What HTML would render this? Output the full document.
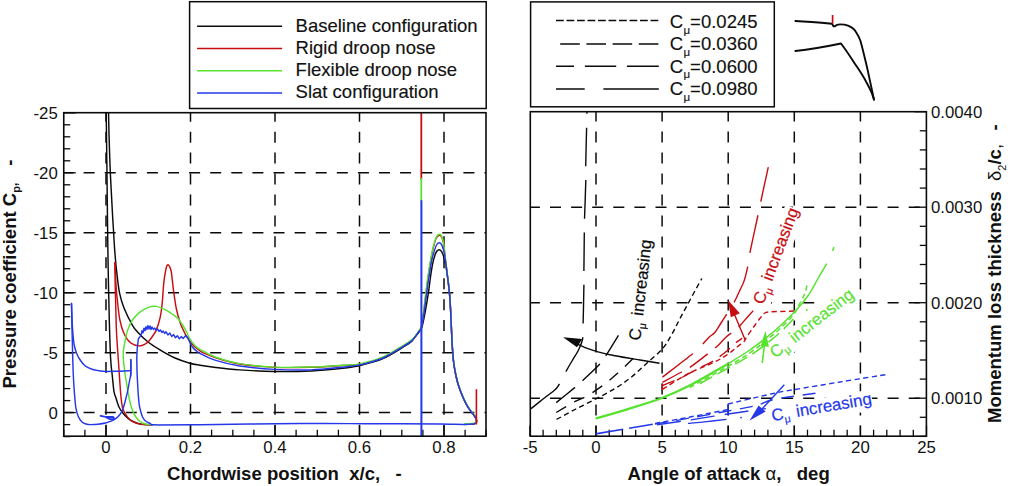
<!DOCTYPE html>
<html><head><meta charset="utf-8"><title>chart</title>
<style>
html,body{margin:0;padding:0;background:#fff;}
svg{display:block;}
text{font-family:"Liberation Sans",sans-serif;fill:#111;}
.tk{font-size:16.8px;}
.lg{font-size:18.5px;stroke:#111;stroke-width:0.15px;}
.tt{font-size:18.55px;font-weight:700;}
.an{font-size:16.8px;}
</style></head><body>
<svg width="1011" height="486" viewBox="0 0 1011 486">
<rect width="1011" height="486" fill="#fff"/>

<clipPath id="cl"><rect x="63.75" y="112.7" width="422.25" height="323.5"/></clipPath>
<g clip-path="url(#cl)" stroke="#0a0a0a" stroke-width="1.5" fill="none" stroke-dasharray="11 10.1">
<path stroke-dasharray="11 9.94" d="M106.0,110.7 V436.2"/>
<path stroke-dasharray="11 9.94" d="M190.5,110.7 V436.2"/>
<path stroke-dasharray="11 9.94" d="M275.0,110.7 V436.2"/>
<path stroke-dasharray="11 9.94" d="M359.5,110.7 V436.2"/>
<path stroke-dasharray="11 9.94" d="M444.0,110.7 V436.2"/>
<path d="M62.5,172.8 H486.0"/>
<path d="M62.5,232.8 H486.0"/>
<path d="M62.5,292.7 H486.0"/>
<path d="M62.5,352.7 H486.0"/>
<path d="M62.5,412.6 H486.0"/>
</g>
<g stroke="#0a0a0a" stroke-width="1.3" fill="none">
<path d="M63.75,112.9 h12"/>
<path d="M63.75,124.8 h6.5"/>
<path d="M63.75,136.8 h6.5"/>
<path d="M63.75,148.8 h6.5"/>
<path d="M63.75,160.8 h6.5"/>
<path d="M63.75,172.8 h12"/>
<path d="M63.75,184.8 h6.5"/>
<path d="M63.75,196.8 h6.5"/>
<path d="M63.75,208.8 h6.5"/>
<path d="M63.75,220.8 h6.5"/>
<path d="M63.75,232.8 h12"/>
<path d="M63.75,244.7 h6.5"/>
<path d="M63.75,256.7 h6.5"/>
<path d="M63.75,268.7 h6.5"/>
<path d="M63.75,280.7 h6.5"/>
<path d="M63.75,292.7 h12"/>
<path d="M63.75,304.7 h6.5"/>
<path d="M63.75,316.7 h6.5"/>
<path d="M63.75,328.7 h6.5"/>
<path d="M63.75,340.7 h6.5"/>
<path d="M63.75,352.7 h12"/>
<path d="M63.75,364.6 h6.5"/>
<path d="M63.75,376.6 h6.5"/>
<path d="M63.75,388.6 h6.5"/>
<path d="M63.75,400.6 h6.5"/>
<path d="M63.75,412.6 h12"/>
<path d="M63.75,424.6 h6.5"/>
<path d="M63.75,436.6 h6.5"/>
<path d="M63.8,436.2 v-6.5"/>
<path d="M84.9,436.2 v-6.5"/>
<path d="M106.0,436.2 v-11"/>
<path d="M127.1,436.2 v-6.5"/>
<path d="M148.2,436.2 v-6.5"/>
<path d="M169.4,436.2 v-6.5"/>
<path d="M190.5,436.2 v-11"/>
<path d="M211.6,436.2 v-6.5"/>
<path d="M232.8,436.2 v-6.5"/>
<path d="M253.9,436.2 v-6.5"/>
<path d="M275.0,436.2 v-11"/>
<path d="M296.1,436.2 v-6.5"/>
<path d="M317.3,436.2 v-6.5"/>
<path d="M338.4,436.2 v-6.5"/>
<path d="M359.5,436.2 v-11"/>
<path d="M380.6,436.2 v-6.5"/>
<path d="M401.8,436.2 v-6.5"/>
<path d="M422.9,436.2 v-6.5"/>
<path d="M444.0,436.2 v-11"/>
<path d="M465.1,436.2 v-6.5"/>
<path d="M486.2,436.2 v-6.5"/>
</g>
<g clip-path="url(#cl)" fill="none" stroke-width="1.45" stroke-linejoin="round" stroke-linecap="round">
<path stroke="#0a0a0a" d="M108.5,112.0 C108.6,116.2 108.8,127.0 109.1,137.0 C109.4,147.0 109.8,160.7 110.3,172.0 C110.8,183.3 111.5,195.0 112.0,205.0 C112.5,215.0 113.1,224.5 113.6,232.0 C114.0,239.5 114.2,243.7 114.7,250.0 C115.2,256.3 115.7,262.9 116.5,270.0 C117.3,277.1 118.2,286.1 119.4,292.4 C120.7,298.7 121.8,302.5 124.0,308.0 C126.2,313.5 130.2,321.3 132.5,325.3 C134.8,329.3 134.9,329.2 137.5,332.0 C140.1,334.8 144.1,338.9 148.0,342.0 C151.9,345.1 156.7,347.9 161.2,350.6 C165.7,353.3 170.2,355.9 175.0,358.0 C179.8,360.1 185.6,362.0 189.8,363.2 C194.0,364.4 195.7,364.5 200.0,365.2 C204.3,365.9 209.2,366.7 215.8,367.5 C222.4,368.3 229.8,369.2 239.6,369.9 C249.4,370.6 262.6,371.3 274.5,371.5 C286.4,371.7 299.6,371.5 311.0,371.0 C322.4,370.5 334.4,369.2 342.6,368.3 C350.8,367.4 353.3,367.1 360.0,365.5 C366.7,363.9 375.8,361.7 383.0,358.6 C390.2,355.5 398.7,349.8 403.4,347.0 C408.1,344.2 409.1,343.7 411.0,342.0 C412.9,340.3 413.7,338.7 415.0,337.0 C416.3,335.3 417.8,333.7 419.0,332.0 C420.2,330.3 421.0,330.2 422.0,327.0 C423.0,323.8 423.9,318.8 425.0,313.0 C426.1,307.2 427.6,298.2 428.5,292.2 C429.4,286.2 429.8,281.8 430.5,277.0 C431.2,272.2 431.9,267.2 432.7,263.5 C433.4,259.8 434.3,257.1 435.0,255.0 C435.7,252.9 436.3,251.9 437.0,251.0 C437.7,250.1 438.4,249.7 439.1,249.7 C439.8,249.7 440.6,250.1 441.3,251.2 C442.0,252.2 442.8,253.7 443.5,256.0 C444.2,258.3 445.0,261.6 445.7,265.0 C446.4,268.4 446.9,271.9 447.5,276.5 C448.1,281.1 448.9,286.7 449.4,292.3 C449.9,297.9 450.3,304.1 450.6,310.0 C450.9,315.9 451.1,322.2 451.4,328.0 C451.7,333.8 451.8,339.3 452.2,345.0 C452.6,350.7 453.0,357.2 453.6,362.0 C454.2,366.8 454.8,370.2 455.6,374.0 C456.4,377.8 457.1,381.0 458.2,384.5 C459.3,388.0 460.6,391.6 462.0,395.0 C463.4,398.4 465.3,402.4 466.8,405.2 C468.3,407.9 469.8,409.8 471.0,411.5 C472.2,413.2 473.2,414.1 474.0,415.3 C474.8,416.5 475.6,417.6 476.0,418.5 C476.4,419.4 476.6,420.2 476.6,421.0 C476.6,421.8 476.6,422.5 476.0,423.0 C475.4,423.5 474.8,423.8 473.0,424.0 C471.2,424.2 466.3,424.3 465.0,424.4"/>
<path stroke="#0a0a0a" d="M152.0,424.8 C150.2,424.7 144.2,424.7 141.0,424.1 C137.8,423.6 135.2,422.5 133.0,421.5 C130.8,420.5 129.2,419.4 127.5,417.9 C125.8,416.4 123.9,414.3 122.5,412.5 C121.1,410.7 120.1,409.4 119.0,407.0 C117.9,404.6 116.8,400.6 116.0,398.0 C115.2,395.4 114.6,395.5 114.0,391.7 C113.4,387.9 112.8,380.6 112.2,375.0 C111.6,369.4 111.1,367.2 110.6,358.0 C110.1,348.8 109.7,334.7 109.3,320.0 C108.9,305.3 108.5,286.7 108.2,270.0 C107.9,253.3 107.7,238.3 107.5,220.0 C107.3,201.7 107.0,178.0 106.8,160.0 C106.6,142.0 106.3,120.0 106.2,112.0"/>
<path stroke="#c80d12" d="M114.8,262.6 C114.9,264.2 115.2,268.3 115.4,272.0 C115.6,275.7 115.7,280.3 116.0,285.0 C116.3,289.7 116.6,294.1 117.3,300.0 C118.0,305.9 118.8,314.6 119.9,320.2 C121.0,325.8 122.3,329.9 124.1,333.7 C125.9,337.5 128.3,341.0 130.8,343.0 C133.3,345.0 136.9,345.7 139.3,345.9 C141.7,346.1 143.3,345.1 145.0,344.2 C146.7,343.3 147.6,342.8 149.4,340.5 C151.2,338.2 154.3,334.3 156.1,330.4 C157.9,326.5 159.3,321.5 160.3,316.9 C161.3,312.3 161.6,308.5 162.2,303.0 C162.8,297.5 163.2,288.9 163.7,283.7 C164.2,278.5 164.9,274.8 165.4,271.9 C165.9,269.0 166.3,267.4 166.7,266.2 C167.1,265.0 167.5,264.8 168.0,264.8 C168.5,264.9 168.9,265.3 169.5,266.5 C170.1,267.7 170.7,268.2 171.3,271.9 C171.9,275.6 172.5,282.6 173.3,288.8 C174.2,295.0 175.1,302.8 176.4,309.0 C177.8,315.2 179.2,320.5 181.4,325.9 C183.6,331.3 186.7,337.1 189.8,341.3 C192.9,345.5 195.7,348.2 200.0,351.0 C204.3,353.8 209.2,355.6 215.8,357.8 C222.4,360.0 229.8,362.4 239.6,364.0 C249.4,365.6 262.6,366.8 274.5,367.4 C286.4,367.9 299.6,367.6 311.0,367.3 C322.4,367.0 334.4,366.0 342.6,365.5 C350.8,365.0 353.3,365.8 360.0,364.5 C366.7,363.2 375.8,360.7 383.0,357.6 C390.2,354.5 398.7,348.8 403.4,346.0 C408.1,343.2 409.1,342.5 411.0,341.0 C412.9,339.5 413.7,338.6 415.0,337.0 C416.3,335.4 417.9,332.9 419.0,331.3 C420.1,329.7 420.5,330.4 421.3,327.3 C422.1,324.2 422.8,318.9 423.6,313.0 C424.4,307.1 425.4,298.2 426.1,292.2 C426.9,286.2 427.4,282.0 428.1,277.0 C428.8,272.0 429.7,266.7 430.5,262.0 C431.3,257.3 432.2,252.6 433.1,248.7 C434.0,244.8 435.0,241.0 436.0,238.8 C437.0,236.6 438.2,235.6 439.1,235.3 C440.0,235.0 440.8,235.5 441.5,236.8 C442.2,238.1 442.8,239.0 443.5,243.2 C444.2,247.4 445.0,256.4 445.7,262.0 C446.4,267.6 446.9,271.4 447.5,276.5 C448.1,281.6 448.9,286.7 449.4,292.3 C449.9,297.9 450.3,304.1 450.6,310.0 C450.9,315.9 451.1,322.2 451.4,328.0 C451.7,333.8 451.8,339.3 452.2,345.0 C452.6,350.7 453.0,357.2 453.6,362.0 C454.2,366.8 454.8,370.2 455.6,374.0 C456.4,377.8 457.1,381.0 458.2,384.5 C459.3,388.0 460.6,391.6 462.0,395.0 C463.4,398.4 465.3,402.4 466.8,405.2 C468.3,407.9 469.8,409.8 471.0,411.5 C472.2,413.2 473.2,414.1 474.0,415.3 C474.8,416.5 475.6,417.6 476.0,418.5 C476.4,419.4 476.6,420.2 476.6,421.0 C476.6,421.8 476.6,422.5 476.0,423.0 C475.4,423.5 474.8,423.8 473.0,424.0 C471.2,424.2 466.3,424.3 465.0,424.4"/>
<path stroke="#c80d12" d="M152.0,424.8 C150.2,424.7 143.7,424.5 141.0,424.2 C138.3,423.9 137.6,423.6 135.9,423.0 C134.2,422.4 132.4,421.5 131.0,420.5 C129.6,419.5 128.6,418.3 127.5,417.0 C126.4,415.7 125.3,414.2 124.5,412.5 C123.7,410.8 123.0,409.8 122.4,407.0 C121.8,404.2 121.3,399.9 120.9,396.0 C120.5,392.1 120.4,389.6 119.9,383.3 C119.5,377.0 118.8,366.9 118.2,358.0 C117.6,349.1 116.8,339.7 116.4,330.0 C116.0,320.3 115.8,307.5 115.6,300.0 C115.4,292.5 115.3,291.2 115.2,285.0 C115.1,278.8 114.9,266.3 114.8,262.6"/>
<path stroke="#58e230" d="M152.0,424.7 C150.7,424.6 146.4,424.4 144.3,423.8 C142.2,423.2 140.9,422.1 139.5,421.0 C138.1,419.9 137.0,418.6 135.9,417.0 C134.8,415.4 133.8,413.5 133.0,411.5 C132.2,409.5 131.6,407.9 130.8,405.2 C130.1,402.4 129.2,398.6 128.5,395.0 C127.8,391.4 127.3,387.5 126.6,383.3 C125.9,379.1 125.0,374.2 124.5,370.0 C124.0,365.8 123.5,361.3 123.3,358.0 C123.1,354.7 123.2,352.6 123.5,350.0 C123.8,347.4 124.2,345.5 124.9,342.2 C125.6,338.9 126.2,334.1 127.5,330.4 C128.8,326.7 130.5,323.0 132.5,320.0 C134.5,317.0 136.8,314.7 139.3,312.6 C141.8,310.5 144.9,308.6 147.7,307.6 C150.5,306.6 153.3,306.1 156.1,306.4 C158.9,306.7 162.1,308.1 164.6,309.3 C167.1,310.5 169.1,312.0 171.3,313.5 C173.5,315.0 175.8,316.0 178.0,318.5 C180.2,321.0 182.8,325.3 184.8,328.7 C186.8,332.1 188.1,336.0 189.8,338.8 C191.5,341.6 193.2,343.8 194.9,345.5 C196.6,347.2 196.5,347.4 200.0,349.3 C203.5,351.2 209.2,354.8 215.8,357.2 C222.4,359.6 229.8,362.0 239.6,363.6 C249.4,365.2 262.6,366.5 274.5,367.1 C286.4,367.7 299.6,367.3 311.0,367.0 C322.4,366.7 334.4,365.7 342.6,365.2 C350.8,364.7 353.3,365.3 360.0,363.9 C366.7,362.5 375.8,360.1 383.0,357.0 C390.2,353.9 398.7,348.2 403.4,345.4 C408.1,342.6 409.1,341.9 411.0,340.4 C412.9,338.9 413.7,338.1 415.0,336.4 C416.3,334.7 417.9,332.1 419.0,330.4 C420.1,328.7 420.6,329.4 421.3,326.4 C422.1,323.4 422.7,318.2 423.5,312.4 C424.3,306.6 425.2,297.6 426.0,291.6 C426.8,285.6 427.3,281.4 428.0,276.4 C428.7,271.4 429.6,266.1 430.4,261.4 C431.2,256.6 432.1,251.8 433.0,247.9 C433.9,244.0 435.0,240.2 436.0,237.9 C437.0,235.6 438.2,234.6 439.1,234.3 C440.0,234.0 440.8,234.6 441.5,235.9 C442.2,237.2 442.8,238.2 443.5,242.4 C444.2,246.7 445.0,255.8 445.7,261.4 C446.4,267.0 446.9,270.8 447.5,275.9 C448.1,280.9 448.9,286.1 449.4,291.7 C449.9,297.3 450.3,303.4 450.6,309.4 C450.9,315.3 451.1,321.6 451.4,327.4 C451.7,333.2 451.8,338.7 452.2,344.4 C452.6,350.1 453.0,356.6 453.6,361.4 C454.2,366.2 454.8,369.6 455.6,373.4 C456.4,377.1 457.1,380.4 458.2,383.9 C459.3,387.4 460.6,390.9 462.0,394.4 C463.4,397.8 465.3,401.8 466.8,404.6 C468.3,407.3 469.8,409.2 471.0,410.9 C472.2,412.6 473.2,413.5 474.0,414.7 C474.8,415.9 475.6,416.9 476.0,417.9 C476.4,418.8 476.6,419.6 476.6,420.4 C476.6,421.1 476.6,421.9 476.0,422.4 C475.4,422.9 474.8,423.2 473.0,423.4 C471.2,423.6 466.3,423.7 465.0,423.8"/>
<path stroke="#2438e8" d="M149.4,423.2 C148.8,422.8 146.6,422.0 145.5,421.0 C144.4,420.0 143.4,418.7 142.6,417.0 C141.8,415.3 141.1,413.0 140.6,411.0 C140.1,409.0 139.7,407.9 139.3,405.2 C138.9,402.5 138.6,398.6 138.3,395.0 C138.0,391.4 137.8,387.5 137.6,383.3 C137.4,379.1 137.1,374.2 137.0,370.0 C136.9,365.8 136.8,361.7 136.8,358.0 C136.9,354.3 137.0,351.2 137.3,348.0 C137.6,344.8 138.2,340.3 138.4,338.8 L141.0,335.4 L142.0,330.7 L143.0,332.9 L144.0,328.2 L145.0,330.7 L146.0,326.7 L147.0,329.4 L148.0,325.6 L149.0,329.1 L150.0,325.9 L151.0,329.5 L152.0,327.0 L153.4,329.5 L154.8,328.0 L156.2,330.5 L157.6,328.9 L159.0,331.4 L160.4,329.9 L161.8,332.4 L163.2,331.0 L164.6,333.5 L166.0,331.7 L167.9,335.0 L169.8,333.1 L171.7,336.5 L173.6,334.6 L175.5,337.8 L177.4,335.7 L179.3,338.8 L181.2,336.6 L183.1,338.4 L185.6,335.8"/>
<path stroke="#2438e8" d="M185.6,335.8 C185.9,336.1 186.9,336.7 187.5,337.5 C188.1,338.3 188.4,339.3 189.0,340.5 C189.6,341.7 190.3,343.2 191.0,344.5 C191.7,345.8 192.3,346.9 193.2,348.0 C194.1,349.1 195.4,350.1 196.5,351.0 C197.6,351.9 196.8,351.7 200.0,353.3 C203.2,354.9 209.2,358.3 215.8,360.4 C222.4,362.5 229.8,364.5 239.6,366.0 C249.4,367.5 262.6,368.8 274.5,369.4 C286.4,370.0 299.6,370.3 311.0,369.9 C322.4,369.5 334.4,368.0 342.6,367.2 C350.8,366.4 353.3,366.4 360.0,364.9 C366.7,363.4 375.8,361.1 383.0,358.0 C390.2,354.9 398.7,349.2 403.4,346.4 C408.1,343.6 409.1,343.0 411.0,341.4 C412.9,339.8 413.7,338.6 415.0,337.0 C416.3,335.4 417.9,333.1 419.0,331.5 C420.1,329.9 420.7,330.6 421.5,327.5 C422.3,324.4 423.1,318.9 424.0,313.0 C424.9,307.1 426.0,298.2 426.8,292.2 C427.6,286.2 428.2,282.0 429.0,277.0 C429.8,272.0 430.6,266.2 431.4,262.0 C432.2,257.8 433.1,254.8 434.0,252.0 C434.9,249.2 435.6,246.5 436.5,245.0 C437.4,243.5 438.3,242.9 439.1,242.8 C439.9,242.7 440.7,243.2 441.5,244.5 C442.3,245.8 443.0,247.5 443.7,250.5 C444.4,253.5 445.1,258.2 445.7,262.5 C446.3,266.8 446.9,271.5 447.5,276.5 C448.1,281.5 448.9,286.7 449.4,292.3 C449.9,297.9 450.3,304.1 450.6,310.0 C450.9,315.9 451.1,322.2 451.4,328.0 C451.7,333.8 451.8,339.3 452.2,345.0 C452.6,350.7 453.0,357.2 453.6,362.0 C454.2,366.8 454.8,370.2 455.6,374.0 C456.4,377.8 457.1,381.0 458.2,384.5 C459.3,388.0 460.6,391.6 462.0,395.0 C463.4,398.4 465.3,402.4 466.8,405.2 C468.3,407.9 469.8,409.8 471.0,411.5 C472.2,413.2 473.2,414.1 474.0,415.3 C474.8,416.5 475.6,417.6 476.0,418.5 C476.4,419.4 476.6,420.2 476.6,421.0 C476.6,421.8 476.6,422.5 476.0,423.0 C475.4,423.5 474.8,423.8 473.0,424.0 C471.2,424.2 470.5,424.4 465.0,424.4 C459.5,424.4 450.8,424.1 440.0,424.0 C429.2,423.9 415.0,423.9 400.0,423.8 C385.0,423.7 366.7,423.7 350.0,423.6 C333.3,423.6 316.7,423.4 300.0,423.5 C283.3,423.6 266.7,423.8 250.0,424.0 C233.3,424.2 215.0,424.7 200.0,424.8 C185.0,424.9 168.0,424.9 160.0,424.9 C152.0,424.9 153.3,424.8 152.0,424.8"/>
<path stroke="#2438e8" d="M152,424.8 L149.4,423.2"/>
<path stroke="#2438e8" d="M71.5,303.5 C71.6,305.9 71.8,313.2 72.0,318.0 C72.2,322.8 72.4,327.5 72.8,332.0 C73.2,336.5 73.5,341.3 74.2,345.0 C74.9,348.7 75.9,351.4 76.9,354.0 C78.0,356.6 79.1,358.5 80.5,360.5 C81.9,362.5 83.4,364.5 85.3,366.0 C87.2,367.5 89.7,368.5 92.0,369.3 C94.3,370.1 96.8,370.4 99.0,370.7 C101.2,371.0 102.3,371.3 105.5,371.4 C108.7,371.5 113.8,371.3 118.0,371.2 C122.2,371.1 128.7,370.7 130.8,370.6"/>
<path stroke="#2438e8" d="M71.5,303.5 C71.6,307.1 71.8,318.1 71.9,325.0 C72.1,331.9 72.2,336.7 72.4,345.0 C72.6,353.3 72.9,366.6 73.3,374.9 C73.7,383.2 74.1,389.4 74.6,395.0 C75.0,400.6 75.3,404.9 76.0,408.6 C76.7,412.3 77.5,414.8 78.5,417.0 C79.5,419.2 80.8,420.8 82.0,422.0 C83.2,423.2 84.6,423.6 86.0,424.0 C87.4,424.4 88.4,424.6 90.4,424.6 C92.4,424.6 95.5,424.5 98.0,424.2 C100.5,423.9 103.3,423.5 105.5,423.0 C107.7,422.5 109.3,421.9 111.0,421.2 C112.7,420.5 114.2,419.7 115.6,418.7 C117.0,417.7 118.4,416.4 119.5,415.0 C120.6,413.6 121.5,412.5 122.4,410.3 C123.3,408.1 124.2,405.1 125.0,402.0 C125.8,398.9 126.8,395.0 127.5,391.7 C128.2,388.4 128.8,385.1 129.3,382.0 C129.9,378.9 130.6,376.9 130.8,373.2 C131.1,369.5 130.8,361.9 130.8,359.7"/>
<path stroke="#2438e8" d="M130.8,359.5 V376"/>
<path stroke="#2438e8" stroke-width="1.8" d="M100.5,415.8 L104.5,416.6 L108.9,417 L113.1,417 Q114.6,418 113.4,419.2 L110,419.2 L105.8,417.2"/>
<path stroke="#c80d12" stroke-width="1.8" d="M421.3,112 V179"/>
<path stroke="#58e230" stroke-width="1.8" d="M421.3,178.7 V200.5"/>
<path stroke="#2438e8" stroke-width="2" stroke-linecap="butt" d="M421.4,200.3 V436"/>
<path stroke="#c80d12" stroke-width="1.6" stroke-linecap="butt" d="M476.4,389.3 V424.6"/>
</g>
<rect x="63.75" y="112.7" width="422.25" height="323.5" fill="none" stroke="#0a0a0a" stroke-width="1.6"/>
<text class="tk" x="57.8" y="118.8" text-anchor="end">-25</text>
<text class="tk" x="57.8" y="178.7" text-anchor="end">-20</text>
<text class="tk" x="57.8" y="238.7" text-anchor="end">-15</text>
<text class="tk" x="57.8" y="298.6" text-anchor="end">-10</text>
<text class="tk" x="57.8" y="358.6" text-anchor="end">-5</text>
<text class="tk" x="57.8" y="418.5" text-anchor="end">0</text>
<text class="tk" x="106.0" y="453.2" text-anchor="middle">0</text>
<text class="tk" x="190.5" y="453.2" text-anchor="middle">0.2</text>
<text class="tk" x="275.0" y="453.2" text-anchor="middle">0.4</text>
<text class="tk" x="359.5" y="453.2" text-anchor="middle">0.6</text>
<text class="tk" x="444.0" y="453.2" text-anchor="middle">0.8</text>
<text class="tt" x="167" y="479.6" xml:space="preserve">Chordwise position  x/c,   -</text>
<text class="tt" transform="translate(16,388.5) rotate(-90)" xml:space="preserve">Pressure coefficient C<tspan font-size="11px" dy="4.3">p</tspan><tspan font-size="12px" dy="-3.3">,</tspan><tspan dy="-1" dx="1.5">   -</tspan></text>
<rect x="189.6" y="1.7" width="296.6" height="106.8" fill="#fff" stroke="#0a0a0a" stroke-width="1.5"/>
<path d="M197.1,26.2 H282.1" stroke="#0a0a0a" stroke-width="1.4" fill="none"/>
<text class="lg" x="295.6" y="31.5">Baseline configuration</text>
<path d="M197.1,48.5 H282.1" stroke="#c80d12" stroke-width="1.4" fill="none"/>
<text class="lg" x="295.6" y="53.6">Rigid droop nose</text>
<path d="M197.1,70.7 H282.1" stroke="#58e230" stroke-width="1.4" fill="none"/>
<text class="lg" x="295.6" y="75.7">Flexible droop nose</text>
<path d="M197.1,93.0 H282.1" stroke="#2438e8" stroke-width="1.4" fill="none"/>
<text class="lg" x="295.6" y="97.9">Slat configuration</text>
<clipPath id="cr"><rect x="530.3" y="111.7" width="396.1" height="324.5"/></clipPath>
<g clip-path="url(#cr)" stroke="#0a0a0a" stroke-width="1.5" fill="none" stroke-dasharray="11 10.1">
<path stroke-dasharray="11 10" d="M596.0,110.6 V436.2"/>
<path stroke-dasharray="11 10" d="M662.1,110.6 V436.2"/>
<path stroke-dasharray="11 10" d="M728.2,110.6 V436.2"/>
<path stroke-dasharray="11 10" d="M794.3,110.6 V436.2"/>
<path stroke-dasharray="11 10" d="M860.4,110.6 V436.2"/>
<path d="M528.9,398.2 H926.4"/>
<path d="M528.9,302.7 H926.4"/>
<path d="M528.9,207.2 H926.4"/>
</g>
<g clip-path="url(#cr)">
<rect transform="translate(640.2,341) rotate(-83.5)" x="-3.5" y="-14.5" width="105.4" height="21" fill="#fff"/>
<rect transform="translate(763.3,305.2) rotate(-69.5)" x="-3.5" y="-14.5" width="105.4" height="21" fill="#fff"/>
<rect transform="translate(775.2,358.8) rotate(-38)" x="-3.5" y="-14.5" width="105.4" height="21" fill="#fff"/>
<rect transform="translate(772.5,421.2) rotate(-9.8)" x="-3.5" y="-14.5" width="105.4" height="21" fill="#fff"/>
</g>
<g stroke="#0a0a0a" stroke-width="1.3" fill="none">
<path d="M529.9,436.2 v-10.5"/>
<path d="M543.1,436.2 v-6.5"/>
<path d="M556.3,436.2 v-6.5"/>
<path d="M569.6,436.2 v-6.5"/>
<path d="M582.8,436.2 v-6.5"/>
<path d="M596.0,436.2 v-10.5"/>
<path d="M609.2,436.2 v-6.5"/>
<path d="M622.4,436.2 v-6.5"/>
<path d="M635.7,436.2 v-6.5"/>
<path d="M648.9,436.2 v-6.5"/>
<path d="M662.1,436.2 v-10.5"/>
<path d="M675.3,436.2 v-6.5"/>
<path d="M688.5,436.2 v-6.5"/>
<path d="M701.8,436.2 v-6.5"/>
<path d="M715.0,436.2 v-6.5"/>
<path d="M728.2,436.2 v-10.5"/>
<path d="M741.4,436.2 v-6.5"/>
<path d="M754.6,436.2 v-6.5"/>
<path d="M767.9,436.2 v-6.5"/>
<path d="M781.1,436.2 v-6.5"/>
<path d="M794.3,436.2 v-10.5"/>
<path d="M807.5,436.2 v-6.5"/>
<path d="M820.7,436.2 v-6.5"/>
<path d="M834.0,436.2 v-6.5"/>
<path d="M847.2,436.2 v-6.5"/>
<path d="M860.4,436.2 v-10.5"/>
<path d="M873.6,436.2 v-6.5"/>
<path d="M886.8,436.2 v-6.5"/>
<path d="M900.1,436.2 v-6.5"/>
<path d="M913.3,436.2 v-6.5"/>
<path d="M926.5,436.2 v-10.5"/>
<path d="M926.4,436.4 h-6.6"/>
<path d="M926.4,417.3 h-6.6"/>
<path d="M926.4,398.2 h-12"/>
<path d="M926.4,379.1 h-6.6"/>
<path d="M926.4,360.0 h-6.6"/>
<path d="M926.4,340.9 h-6.6"/>
<path d="M926.4,321.8 h-6.6"/>
<path d="M926.4,302.7 h-12"/>
<path d="M926.4,283.6 h-6.6"/>
<path d="M926.4,264.5 h-6.6"/>
<path d="M926.4,245.4 h-6.6"/>
<path d="M926.4,226.3 h-6.6"/>
<path d="M926.4,207.2 h-12"/>
<path d="M926.4,188.1 h-6.6"/>
<path d="M926.4,169.0 h-6.6"/>
<path d="M926.4,149.9 h-6.6"/>
<path d="M926.4,130.8 h-6.6"/>
<path d="M926.4,111.7 h-12"/>
</g>
<g clip-path="url(#cr)" fill="none" stroke-width="1.4" stroke-linecap="butt" stroke-linejoin="round">
<path stroke="#0a0a0a" stroke-dasharray="5.2 3.4" d="M556.5,419.4 C559.6,417.8 568.4,412.9 575.0,409.5 C581.6,406.1 589.3,402.3 596.0,398.8 C602.7,395.3 609.2,392.1 615.0,388.5 C620.8,384.9 625.7,381.6 631.0,377.4 C636.3,373.2 641.5,368.0 646.8,363.2 C652.1,358.4 658.4,353.5 662.6,348.6 C666.8,343.7 669.1,339.0 672.0,334.0 C674.9,329.0 677.0,324.2 680.0,318.5 C683.0,312.8 686.4,306.7 690.0,300.0 C693.6,293.3 699.8,282.1 701.8,278.5"/>
<path stroke="#0a0a0a" stroke-dasharray="11.5 9.3" d="M556.2,412.5 C559.3,410.7 569.4,404.5 574.7,401.7 C580.0,398.9 582.8,398.4 587.8,395.5 C592.8,392.6 599.5,388.0 604.8,384.0 C610.1,380.0 614.2,376.3 619.4,371.6 C624.6,366.9 633.1,358.6 635.8,356.0"/>
<path stroke="#0a0a0a" stroke-dasharray="24 10.2" d="M556.2,402.6 C559.4,400.0 571.1,390.6 575.5,387.0 C579.9,383.4 578.4,384.6 582.4,380.9 C586.4,377.1 595.5,368.6 599.4,364.5 C603.3,360.4 602.4,361.1 605.6,356.2 C608.8,351.2 616.6,338.4 618.8,334.8"/>
<path stroke="#0a0a0a" stroke-dasharray="38.4 14" stroke-dashoffset="35.6" d="M586.9,111.0 C586.9,113.8 586.8,118.7 586.6,128.0 C586.4,137.3 585.8,158.2 585.7,167.0 C585.6,175.8 586.0,172.1 585.8,180.8 C585.6,189.5 584.8,210.7 584.5,219.4 C584.2,228.1 584.4,224.5 584.3,233.2 C584.2,241.9 584.0,262.7 583.9,271.5 C583.8,280.3 584.0,277.0 583.9,285.8 C583.8,294.6 583.3,315.2 583.1,324.1 C582.9,333.0 583.4,334.7 582.6,339.0 C581.8,343.3 580.2,346.4 578.5,350.0 C576.8,353.6 574.5,356.8 572.3,360.5 C570.1,364.2 567.4,368.9 565.4,372.4 C563.4,375.9 561.6,379.3 560.5,381.5 C559.4,383.7 559.4,384.1 558.5,385.5 C557.6,386.9 557.2,387.8 555.0,389.8 C552.8,391.8 549.1,394.3 545.0,397.5 C540.9,400.7 534.5,405.9 530.3,409.1 C526.1,412.4 521.7,415.7 520.0,417.0"/>
<path stroke="#0a0a0a" d="M659.5,363.2 C656.2,362.7 647.4,361.2 640.0,360.0 C632.6,358.8 622.0,357.2 615.0,355.8 C608.0,354.4 602.7,353.1 598.0,351.8 C593.3,350.5 590.3,349.6 586.6,348.2 C582.9,346.8 577.8,344.3 576.0,343.5"/>
<path fill="#0a0a0a" stroke="none" d="M563.1,337.2 L582.2,339 L577,347.3 Z"/>
<path stroke="#c80d12" stroke-dasharray="5.2 3.4" d="M662.4,389.4 C666.1,387.1 679.3,378.6 684.7,375.5 C690.1,372.4 689.7,372.8 694.6,370.6 C699.5,368.4 708.9,364.9 714.3,362.2 C719.7,359.5 723.4,357.2 727.2,354.7 C731.0,352.2 734.2,349.2 737.0,347.0 C739.8,344.8 742.4,343.2 744.0,341.5 C745.6,339.8 744.9,339.5 746.6,337.0 C748.3,334.5 751.6,329.8 754.0,326.5 C756.4,323.2 759.2,319.2 761.0,317.0 C762.8,314.8 763.3,313.9 764.8,313.0 C766.3,312.1 767.5,312.1 770.0,311.8 C772.5,311.6 776.0,311.6 780.0,311.5 C784.0,311.4 791.8,311.1 794.1,311.0"/>
<path stroke="#c80d12" stroke-dasharray="13 8.5" d="M662.4,385.5 C664.5,384.7 671.2,382.0 674.8,380.5 C678.3,379.0 679.8,378.5 683.7,376.5 C687.7,374.5 694.0,370.9 698.5,368.6 C703.0,366.3 707.4,364.2 710.4,362.6 C713.4,361.0 713.5,361.0 716.3,359.0 C719.1,357.0 724.4,353.2 727.2,350.8 C730.0,348.4 730.6,346.9 733.1,344.8 C735.6,342.7 740.5,339.5 742.0,338.4"/>
<path stroke="#c80d12" stroke-dasharray="22 9.5" d="M662.4,382.3 C665.6,380.6 676.8,374.7 681.7,372.0 C686.6,369.3 686.7,369.6 691.6,366.1 C696.5,362.7 706.5,354.8 710.9,351.3 C715.3,347.8 715.8,347.7 718.3,345.3 C720.8,342.9 723.2,339.7 726.2,337.0 C729.2,334.3 733.8,331.6 736.6,329.1 C739.4,326.6 740.0,325.5 743.0,322.1 C746.0,318.7 752.9,311.0 754.9,308.8"/>
<path stroke="#c80d12" stroke-dasharray="38.4 14" d="M662.4,377.2 C667.4,373.3 685.9,359.2 692.6,353.7 C699.3,348.2 699.8,347.0 702.5,344.3 C705.2,341.6 707.0,339.3 709.0,337.3 C711.0,335.3 712.8,334.9 714.8,332.5 C716.8,330.1 719.0,326.1 721.0,323.0 C723.0,319.9 724.5,317.6 726.7,314.2 C728.9,310.8 731.9,306.4 734.1,302.4 C736.3,298.4 738.3,293.6 740.0,290.0 C741.7,286.4 742.9,284.6 744.2,280.6 C745.5,276.7 746.8,271.0 747.8,266.3 C748.8,261.6 748.3,260.9 750.0,252.3 C751.7,243.8 756.2,223.5 758.0,215.0 C759.8,206.5 759.1,209.5 760.8,201.5 C762.5,193.5 767.0,172.8 768.3,167.1"/>
<path stroke="#c80d12" d="M662.4,383.8 V390"/>
<path stroke="#c80d12" d="M745.2,340 L734.5,314.5"/>
<path fill="#c80d12" stroke="none" d="M728.1,300.2 L739.8,313.3 L730.8,317.2 Z"/>
<path stroke="#58e230" stroke-width="2.3" d="M595.6,418.5 C600.9,417.0 616.2,412.7 627.1,409.3 C638.0,405.9 650.8,402.2 661.2,398.2 C671.6,394.2 678.5,391.2 689.6,385.5 C700.7,379.8 721.4,367.6 727.7,364.0"/>
<path stroke="#58e230" stroke-width="1.5" d="M727.7,364.0 C731.0,361.9 741.4,355.7 747.6,351.5 C753.8,347.3 759.6,342.9 764.9,338.8 C770.2,334.7 774.5,331.1 779.3,326.8 C784.1,322.5 790.2,316.4 793.7,312.8 C797.2,309.2 798.2,308.1 800.5,305.3 C802.8,302.6 805.7,298.9 807.6,296.3 C809.5,293.8 810.0,293.0 811.7,290.0 C813.4,287.0 815.5,282.9 818.0,278.5 C820.5,274.1 825.3,266.1 826.8,263.6"/>
<path stroke="#58e230" stroke-width="1.5" d="M832.6,251 L833.9,247"/>
<path stroke="#58e230" stroke-width="1.5" stroke-dasharray="5.2 3.4" d="M689.6,387.5 C696.0,384.0 717.6,372.3 727.7,366.5 C737.8,360.7 743.6,357.1 750.0,352.8 C756.4,348.5 760.8,344.8 766.0,340.6 C771.2,336.4 776.4,332.2 781.0,327.8 C785.6,323.4 790.7,318.4 793.7,314.5 C796.7,310.6 797.4,308.0 799.2,304.5 C801.1,301.0 803.4,297.2 804.8,293.5 C806.2,289.8 807.1,284.1 807.6,282.2"/>
<path stroke="#58e230" stroke-width="1.5" stroke-dasharray="14 6" d="M700.0,383.5 C704.6,381.0 719.0,373.2 727.7,368.3 C736.4,363.4 744.8,358.9 752.0,354.2 C759.2,349.5 765.2,344.9 771.0,340.2 C776.8,335.5 782.8,329.8 787.0,325.8 C791.2,321.8 794.5,317.6 796.0,316.0"/>
<circle cx="806.8" cy="310" r="0.9" fill="#58e230"/>
<path stroke="#58e230" stroke-width="1.6" d="M762.3,363 L764.4,345"/>
<path fill="#58e230" stroke="none" d="M765.4,331 L769,346.8 L760.6,346 Z"/>
<path stroke="#2438e8" stroke-width="1.7" stroke-dasharray="28 6 24 300" d="M595.6,433.9 L655,423.9"/>
<path stroke="#2438e8" stroke-dasharray="5.2 3.4" d="M655.0,423.4 C660.8,422.3 677.8,419.3 690.0,417.0 C702.2,414.7 721.7,410.8 728.0,409.5"/>
<path stroke="#2438e8" stroke-dasharray="5.2 3.4" d="M728.0,404.0 C735.4,402.3 761.4,396.1 772.2,393.7 C783.0,391.3 781.5,391.8 792.8,389.8 C804.1,387.9 824.2,384.6 840.0,382.0 C855.8,379.4 879.8,375.6 887.8,374.3"/>
<path stroke="#2438e8" d="M728,403.8 V415.2"/>
<path stroke="#2438e8" stroke-dasharray="13 8.5" d="M655.0,424.0 C660.8,423.0 677.8,420.2 690.0,418.0 C702.2,415.8 716.9,413.1 728.0,411.0 C739.1,408.9 748.6,407.4 756.4,405.5 C764.2,403.6 763.8,401.5 774.6,399.3 C785.5,397.1 813.7,393.6 821.5,392.5"/>
<path stroke="#2438e8" stroke-dasharray="24 10.2" d="M657.0,424.8 C662.5,424.0 678.2,421.8 690.0,420.0 C701.8,418.2 715.4,415.9 728.0,414.0 C740.6,412.1 759.6,409.5 765.9,408.6"/>
<path stroke="#2438e8" d="M688.0,423.4 C691.2,423.1 700.6,422.3 707.0,421.6 C713.4,420.9 723.2,419.8 726.5,419.4"/>
<circle cx="741" cy="417.6" r="0.9" fill="#2438e8"/>
<path stroke="#2438e8" d="M784.3,384.8 L762,409"/>
<path fill="#2438e8" stroke="none" d="M749.6,420.4 L758.6,405.6 L765.6,411.6 Z"/>
</g>
<rect x="530.3" y="111.7" width="396.1" height="324.5" fill="none" stroke="#0a0a0a" stroke-width="1.6"/>
<text class="an" transform="translate(640.2,341) rotate(-83.5)" style="fill:#0a0a0a;stroke:#0a0a0a;stroke-width:0.2px" xml:space="preserve">C<tspan font-size="10.5px" dy="4">μ</tspan><tspan dy="-4" dx="2"> increasing</tspan></text>
<text class="an" transform="translate(763.3,305.2) rotate(-69.5)" style="fill:#c80d12;stroke:#c80d12;stroke-width:0.2px" xml:space="preserve">C<tspan font-size="10.5px" dy="4">μ</tspan><tspan dy="-4" dx="2"> increasing</tspan></text>
<text class="an" transform="translate(775.2,358.8) rotate(-38)" style="fill:#58e230;stroke:#58e230;stroke-width:0.2px" xml:space="preserve">C<tspan font-size="10.5px" dy="4">μ</tspan><tspan dy="-4" dx="2"> increasing</tspan></text>
<text class="an" transform="translate(772.5,421.2) rotate(-9.8)" style="fill:#2438e8;stroke:#2438e8;stroke-width:0.2px" xml:space="preserve">C<tspan font-size="10.5px" dy="4">μ</tspan><tspan dy="-4" dx="2"> increasing</tspan></text>
<text class="tk" x="530.2" y="453.2" text-anchor="middle">-5</text>
<text class="tk" x="596.0" y="453.2" text-anchor="middle">0</text>
<text class="tk" x="662.1" y="453.2" text-anchor="middle">5</text>
<text class="tk" x="728.2" y="453.2" text-anchor="middle">10</text>
<text class="tk" x="794.3" y="453.2" text-anchor="middle">15</text>
<text class="tk" x="860.4" y="453.2" text-anchor="middle">20</text>
<text class="tk" x="926.5" y="453.2" text-anchor="middle">25</text>
<text class="tk" x="930.9" y="404.0">0.0010</text>
<text class="tk" x="930.9" y="308.5">0.0020</text>
<text class="tk" x="930.9" y="213.0">0.0030</text>
<text class="tk" x="930.9" y="117.5">0.0040</text>
<text class="tt" x="627.5" y="479.6" xml:space="preserve">Angle of attack <tspan font-weight="400" font-style="normal">α</tspan>,   deg</text>
<text class="tt" transform="translate(1001.2,423) rotate(-90)" xml:space="preserve">Momentum loss thickness  <tspan font-weight="400">δ</tspan><tspan font-weight="400" font-size="11px" dy="4.5">2</tspan><tspan dy="-4.5">/c</tspan><tspan font-weight="400">,</tspan><tspan dx="-2">   -</tspan></text>
<rect x="530.6" y="1.9" width="243.7" height="104.9" fill="#fff" stroke="#0a0a0a" stroke-width="1.5"/>
<g stroke="#0a0a0a" stroke-width="1.5" fill="none">
<path d="M556,20.5 H658.8" stroke-dasharray="7.8 2.7"/>
<path d="M560.2,43.9 H658.8" stroke-dasharray="19.6 6.6"/>
<path d="M556,66.3 H574 M584.9,66.3 H616.2 M626.9,66.3 H658.8"/>
<path d="M556,89 H584.7 M603.4,89 H658.8"/>
</g>
<text class="lg" x="669.7" y="28.1">C<tspan font-size="11.5px" dy="5.6" dx="0.4">μ</tspan><tspan dy="-5.6">=0.0245</tspan></text>
<text class="lg" x="669.7" y="50.4">C<tspan font-size="11.5px" dy="5.6" dx="0.4">μ</tspan><tspan dy="-5.6">=0.0360</tspan></text>
<text class="lg" x="669.7" y="72.7">C<tspan font-size="11.5px" dy="5.6" dx="0.4">μ</tspan><tspan dy="-5.6">=0.0600</tspan></text>
<text class="lg" x="669.7" y="95.0">C<tspan font-size="11.5px" dy="5.6" dx="0.4">μ</tspan><tspan dy="-5.6">=0.0980</tspan></text>
<g fill="none" stroke="#0a0a0a" stroke-width="1.9" stroke-linecap="round" stroke-linejoin="round">
<path d="M795.4,21 C810,21.6 822,22.8 832,23.8 L833.6,26.4 L834.8,26.2 C836.5,24.6 838.5,24.4 840,24.4 C844,24.4 846,24.8 848,25.6 C852,27.2 854.5,29.4 855.8,31.7 C858,35 859.5,38 860.4,40.8 C863,50 865,59 867.2,68 C869.5,79 872,90 874,99.6"/>
<path d="M795.4,51 C812,49.2 828,46.2 841,43.5 C846,50 850.5,57 854.7,63.4 C859,69.8 863,75.5 866,81.5 C868.4,85.8 870.3,89.5 871.7,92.8 L874,99.6"/>
</g>
<path d="M832.6,15 V23.6" stroke="#c80d12" stroke-width="1.7" fill="none"/>
</svg></body></html>
